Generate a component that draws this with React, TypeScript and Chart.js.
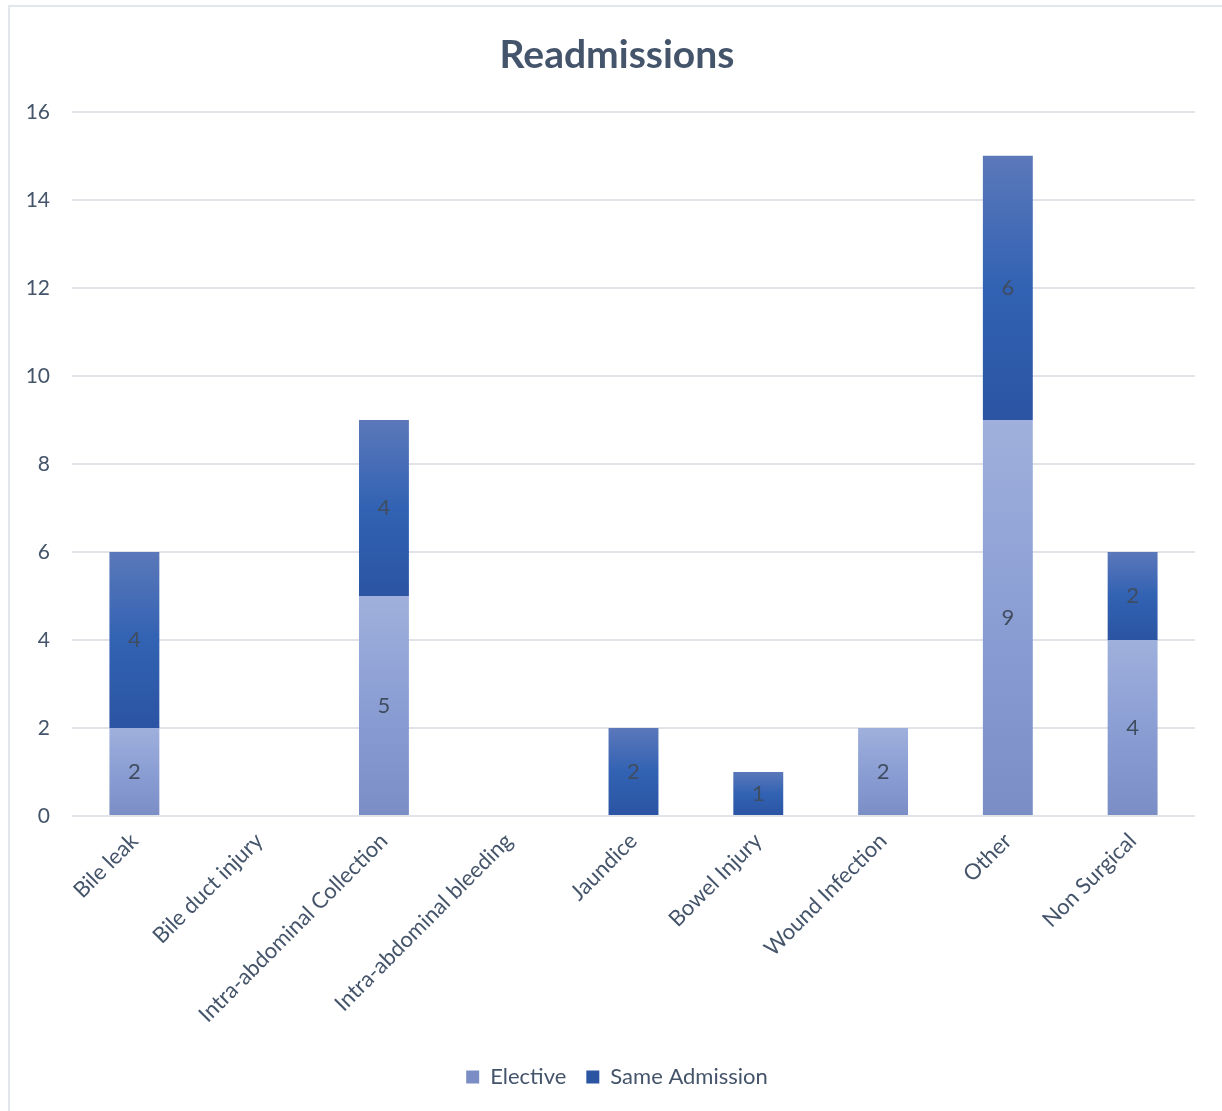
import React, { useEffect, useRef } from "react";
import { Chart, registerables } from "chart.js";

Chart.register(...registerables);

const categories = [
  "Bile leak",
  "Bile duct injury",
  "Intra-abdominal Collection",
  "Intra-abdominal bleeding",
  "Jaundice",
  "Bowel Injury",
  "Wound Infection",
  "Other",
  "Non Surgical",
];
const electiveValues = [2, 0, 5, 0, 0, 0, 2, 9, 4];
const sameAdmissionValues = [4, 0, 4, 0, 2, 1, 0, 6, 2];
const yTicks = [0, 2, 4, 6, 8, 10, 12, 14, 16];

const FONT = "Lato, 'Open Sans', sans-serif";
const TEXT = "#44546A";

const electiveStops = ["#9FB0DC", "#8B9ED4", "#7A8DC5"];
const sameStops = ["#5B78BA", "#3262B3", "#2B54A3"];

function gradientFor(stops: string[], solid: string, isSecond: boolean) {
  return (ctx: any) => {
    const chart = ctx.chart;
    const area = chart.chartArea;
    const yScale = chart.scales && chart.scales.y;
    if (!area || !yScale || ctx.type !== "data") return solid;
    const i = ctx.dataIndex;
    const base = isSecond ? electiveValues[i] : 0;
    const val = isSecond ? sameAdmissionValues[i] : electiveValues[i];
    const yTop = yScale.getPixelForValue(base + val);
    const yBot = yScale.getPixelForValue(base);
    if (!isFinite(yTop) || !isFinite(yBot) || yBot - yTop < 1) return solid;
    const g = chart.ctx.createLinearGradient(0, yTop, 0, yBot);
    g.addColorStop(0, stops[0]);
    g.addColorStop(0.5, stops[1]);
    g.addColorStop(1, stops[2]);
    return g;
  };
}

const valueLabels = {
  id: "valueLabels",
  afterDatasetsDraw(chart: any) {
    const c = chart.ctx;
    c.save();
    c.font = `22px ${FONT}`;
    c.fillStyle = "#404D60";
    c.textAlign = "center";
    c.textBaseline = "middle";
    chart.data.datasets.forEach((ds: any, di: number) => {
      const meta = chart.getDatasetMeta(di);
      meta.data.forEach((el: any, i: number) => {
        const v = ds.data[i];
        if (!v) return;
        c.fillText(String(v), el.x, (el.y + el.base) / 2);
      });
    });
    c.restore();
  },
};

export default function App() {
  const ref = useRef<HTMLCanvasElement | null>(null);
  useEffect(() => {
    if (!ref.current) return;
    const chart = new Chart(ref.current, {
      type: "bar",
      data: {
        labels: categories,
        datasets: [
          {
            label: "Elective",
            data: electiveValues,
            backgroundColor: gradientFor(electiveStops, "#8DA0D4", false),
            barPercentage: 0.4,
            categoryPercentage: 1,
          },
          {
            label: "Same Admission",
            data: sameAdmissionValues,
            backgroundColor: gradientFor(sameStops, "#3460B0", true),
            barPercentage: 0.4,
            categoryPercentage: 1,
          },
        ],
      },
      options: {
        responsive: false,
        animation: false,
        layout: { padding: { left: 10, right: 0, top: 6, bottom: 13 } },
        plugins: {
          title: {
            display: true,
            text: "Readmissions",
            color: TEXT,
            font: { family: FONT, size: 39, weight: "bold" },
            padding: { top: 26, bottom: 33 },
          },
          legend: {
            position: "bottom",
            labels: {
              color: TEXT,
              font: { family: FONT, size: 22 },
              boxWidth: 13,
              boxHeight: 13,
              padding: 20,
            },
          },
          tooltip: { enabled: false },
        },
        scales: {
          x: {
            stacked: true,
            grid: { display: false, drawTicks: false },
            border: { display: false },
            ticks: {
              color: TEXT,
              font: { family: FONT, size: 22 },
              maxRotation: 45,
              minRotation: 45,
              padding: 12,
              autoSkip: false,
            },
            afterFit: (s: any) => {
              s.height = 230;
            },
          },
          y: {
            stacked: true,
            min: 0,
            max: 16,
            afterBuildTicks: (s: any) => {
              s.ticks = yTicks.map((v) => ({ value: v }));
            },
            grid: { color: "#E0E4E9", lineWidth: 2, drawTicks: false },
            border: { display: false },
            ticks: {
              color: TEXT,
              font: { family: FONT, size: 21 },
              padding: 22,
            },
            afterFit: (s: any) => {
              s.width = 62;
            },
          },
          spacer: {
            type: "linear",
            position: "right",
            display: true,
            grid: { display: false, drawTicks: false },
            border: { display: false },
            ticks: { display: false },
            afterFit: (s: any) => {
              s.width = 29;
            },
          },
        },
      },
      plugins: [valueLabels],
    });
    return () => chart.destroy();
  }, []);

  return (
    <>
      <div
        style={{
          position: "fixed",
          left: 8,
          top: 5,
          width: 1260,
          height: 1160,
          border: "2px solid #E3E6EA",
          boxSizing: "border-box",
        }}
      />
      <canvas
        ref={ref}
        width={1224}
        height={1111}
        style={{ position: "fixed", left: 0, top: 0, width: 1224, height: 1111 }}
      />
    </>
  );
}
